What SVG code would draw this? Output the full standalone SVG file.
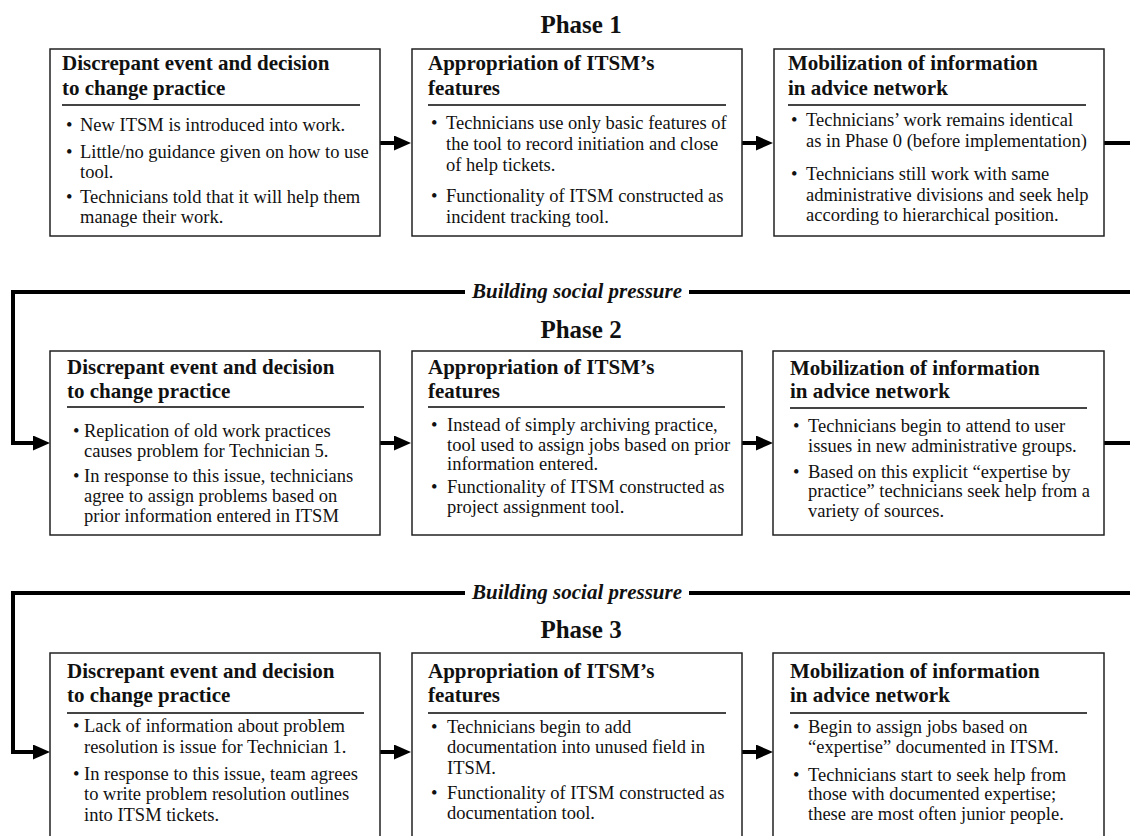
<svg xmlns="http://www.w3.org/2000/svg" width="1130" height="836" viewBox="0 0 1130 836">
<style>
text{font-family:"Liberation Serif","Times New Roman",serif;fill:#111}
.ph{font-size:25px;font-weight:bold;text-anchor:middle}
.lbl{font-size:21px;font-weight:bold;font-style:italic;text-anchor:middle}
.tt{font-size:21px;font-weight:bold}
.bd{font-size:18.5px}
.box{fill:#fff;stroke:#222;stroke-width:1.5}
.ul{stroke:#444;stroke-width:2}
.con{fill:none;stroke:#000;stroke-width:4;stroke-linejoin:miter}
</style>
<defs>
<marker id="ah" viewBox="0 0 17 15" refX="0" refY="7.5" markerWidth="17" markerHeight="15" markerUnits="userSpaceOnUse" orient="auto">
<path d="M0,0 L17,7.5 L0,15 Z" fill="#000"/>
</marker>
</defs>
<rect width="1130" height="836" fill="#fff"/>

<g id="titles">
<text class="ph" x="581" y="33">Phase 1</text>
<text class="ph" x="581" y="338">Phase 2</text>
<text class="ph" x="581" y="638">Phase 3</text>
<text class="lbl" x="577" y="298">Building social pressure</text>
<text class="lbl" x="577" y="599">Building social pressure</text>
</g>

<g id="connectors">
<line class="con" x1="380" y1="143" x2="394" y2="143" marker-end="url(#ah)"/>
<line class="con" x1="742" y1="143" x2="756" y2="143" marker-end="url(#ah)"/>
<line class="con" x1="1104" y1="143" x2="1130" y2="143"/>
<path class="con" d="M1130,292 H689"/>
<path class="con" d="M465,292 H13 V443 H33" marker-end="url(#ah)"/>
<line class="con" x1="380" y1="443" x2="394" y2="443" marker-end="url(#ah)"/>
<line class="con" x1="742" y1="443" x2="756" y2="443" marker-end="url(#ah)"/>
<line class="con" x1="1104" y1="443" x2="1130" y2="443"/>
<path class="con" d="M1130,593 H689"/>
<path class="con" d="M465,593 H13 V752 H33" marker-end="url(#ah)"/>
<line class="con" x1="380" y1="752" x2="394" y2="752" marker-end="url(#ah)"/>
<line class="con" x1="742" y1="752" x2="756" y2="752" marker-end="url(#ah)"/>
</g>

<g id="p1-discrepant">
<rect class="box" x="50" y="49" width="330" height="187"/>
<text class="tt" x="62" y="70">Discrepant event and decision</text>
<text class="tt" x="62" y="95">to change practice</text>
<line class="ul" x1="62" y1="105" x2="360" y2="105"/>
<g class="bd">
<text x="66" y="131">•</text><text x="80" y="131">New ITSM is introduced into work.</text>
<text x="66" y="158">•</text><text x="80" y="158">Little/no guidance given on how to use</text>
<text x="80" y="178">tool.</text>
<text x="66" y="203">•</text><text x="80" y="203">Technicians told that it will help them</text>
<text x="80" y="223">manage their work.</text>
</g>
</g>

<g id="p1-appropriation">
<rect class="box" x="412" y="49" width="330" height="187"/>
<text class="tt" x="428" y="70">Appropriation of ITSM’s</text>
<text class="tt" x="428" y="95">features</text>
<line class="ul" x1="428" y1="105" x2="726" y2="105"/>
<g class="bd">
<text x="431" y="129">•</text><text x="446" y="129">Technicians use only basic features of</text>
<text x="446" y="150">the tool to record initiation and close</text>
<text x="446" y="171">of help tickets.</text>
<text x="431" y="202">•</text><text x="446" y="202">Functionality of ITSM constructed as</text>
<text x="446" y="223">incident tracking tool.</text>
</g>
</g>

<g id="p1-mobilization">
<rect class="box" x="774" y="49" width="330" height="187"/>
<text class="tt" x="788" y="70">Mobilization of information</text>
<text class="tt" x="788" y="95">in advice network</text>
<line class="ul" x1="788" y1="105" x2="1086" y2="105"/>
<g class="bd">
<text x="791" y="126">•</text><text x="806" y="126">Technicians’ work remains identical</text>
<text x="806" y="147">as in Phase 0 (before implementation)</text>
<text x="791" y="180">•</text><text x="806" y="180">Technicians still work with same</text>
<text x="806" y="201">administrative divisions and seek help</text>
<text x="806" y="221">according to hierarchical position.</text>
</g>
</g>

<g id="p2-discrepant">
<rect class="box" x="50" y="351" width="330" height="184"/>
<text class="tt" x="67" y="374">Discrepant event and decision</text>
<text class="tt" x="67" y="398">to change practice</text>
<line class="ul" x1="67" y1="407" x2="364" y2="407"/>
<g class="bd">
<text x="73" y="437">•</text><text x="84" y="437">Replication of old work practices</text>
<text x="84" y="457">causes problem for Technician 5.</text>
<text x="73" y="482">•</text><text x="84" y="482">In response to this issue, technicians</text>
<text x="84" y="502">agree to assign problems based on</text>
<text x="84" y="522">prior information entered in ITSM</text>
</g>
</g>

<g id="p2-appropriation">
<rect class="box" x="412" y="351" width="330" height="184"/>
<text class="tt" x="428" y="374">Appropriation of ITSM’s</text>
<text class="tt" x="428" y="398">features</text>
<line class="ul" x1="428" y1="407" x2="725" y2="407"/>
<g class="bd">
<text x="431" y="431">•</text><text x="447" y="431">Instead of simply archiving practice,</text>
<text x="447" y="451">tool used to assign jobs based on prior</text>
<text x="447" y="470">information entered.</text>
<text x="431" y="493">•</text><text x="447" y="493">Functionality of ITSM constructed as</text>
<text x="447" y="513">project assignment tool.</text>
</g>
</g>

<g id="p2-mobilization">
<rect class="box" x="773" y="351" width="331" height="184"/>
<text class="tt" x="790" y="375">Mobilization of information</text>
<text class="tt" x="790" y="398">in advice network</text>
<line class="ul" x1="790" y1="408" x2="1087" y2="408"/>
<g class="bd">
<text x="793" y="432">•</text><text x="808" y="432">Technicians begin to attend to user</text>
<text x="808" y="452">issues in new administrative groups.</text>
<text x="793" y="478">•</text><text x="808" y="478">Based on this explicit “expertise by</text>
<text x="808" y="497">practice” technicians seek help from a</text>
<text x="808" y="517">variety of sources.</text>
</g>
</g>

<g id="p3-discrepant">
<rect class="box" x="50" y="653" width="330" height="198"/>
<text class="tt" x="67" y="678">Discrepant event and decision</text>
<text class="tt" x="67" y="702">to change practice</text>
<line class="ul" x1="67" y1="713" x2="364" y2="713"/>
<g class="bd">
<text x="73" y="732">•</text><text x="84" y="732">Lack of information about problem</text>
<text x="84" y="753">resolution is issue for Technician 1.</text>
<text x="73" y="780">•</text><text x="84" y="780">In response to this issue, team agrees</text>
<text x="84" y="800">to write problem resolution outlines</text>
<text x="84" y="821">into ITSM tickets.</text>
</g>
</g>

<g id="p3-appropriation">
<rect class="box" x="412" y="653" width="330" height="198"/>
<text class="tt" x="428" y="678">Appropriation of ITSM’s</text>
<text class="tt" x="428" y="702">features</text>
<line class="ul" x1="428" y1="713" x2="726" y2="713"/>
<g class="bd">
<text x="431" y="733">•</text><text x="447" y="733">Technicians begin to add</text>
<text x="447" y="753">documentation into unused field in</text>
<text x="447" y="774">ITSM.</text>
<text x="431" y="799">•</text><text x="447" y="799">Functionality of ITSM constructed as</text>
<text x="447" y="819">documentation tool.</text>
</g>
</g>

<g id="p3-mobilization">
<rect class="box" x="773" y="653" width="331" height="198"/>
<text class="tt" x="790" y="678">Mobilization of information</text>
<text class="tt" x="790" y="702">in advice network</text>
<line class="ul" x1="790" y1="713" x2="1087" y2="713"/>
<g class="bd">
<text x="793" y="733">•</text><text x="808" y="733">Begin to assign jobs based on</text>
<text x="808" y="753">“expertise” documented in ITSM.</text>
<text x="793" y="781">•</text><text x="808" y="781">Technicians start to seek help from</text>
<text x="808" y="800">those with documented expertise;</text>
<text x="808" y="820">these are most often junior people.</text>
</g>
</g>
</svg>
